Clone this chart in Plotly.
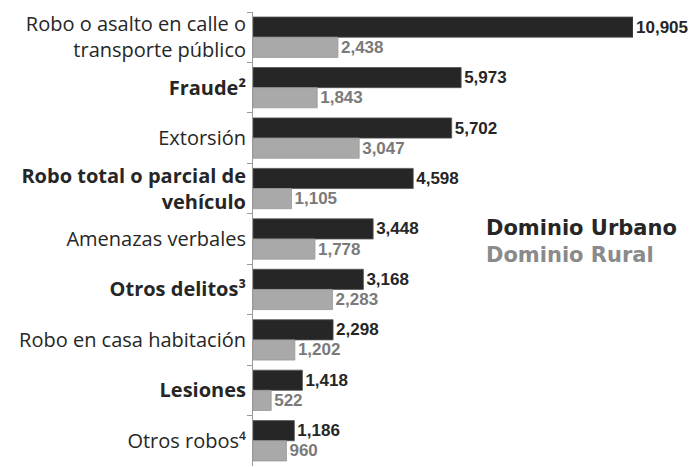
import plotly.graph_objects as go

categories = [
    "Robo o asalto en calle o<br>transporte público",
    "<b>Fraude²</b>",
    "Extorsión",
    "<b>Robo total o parcial de<br>vehículo</b>",
    "Amenazas verbales",
    "<b>Otros delitos³</b>",
    "Robo en casa habitación",
    "<b>Lesiones</b>",
    "Otros robos⁴",
]
urbano = [10905, 5973, 5702, 4598, 3448, 3168, 2298, 1418, 1186]
rural = [2438, 1843, 3047, 1105, 1778, 2283, 1202, 522, 960]
series_names = ["Dominio Urbano", "Dominio Rural"]

dark = "#262626"
gray = "#a9a9a9"
label_gray = "#7a7a7a"

fig = go.Figure()
fig.add_trace(go.Bar(
    y=categories, x=urbano, orientation="h", name=series_names[0],
    marker=dict(color=dark, line=dict(color="#555555", width=0.8)),
    text=[f"{v:,}" for v in urbano], textposition="outside",
    textfont=dict(family="Liberation Sans, Arial", size=17, color=dark),
    texttemplate="<b>%{text}</b>", cliponaxis=False,
))
fig.add_trace(go.Bar(
    y=categories, x=rural, orientation="h", name=series_names[1],
    marker=dict(color=gray, line=dict(color="#999999", width=0.8)),
    text=[f"{v:,}" for v in rural], textposition="outside",
    textfont=dict(family="Liberation Sans, Arial", size=17, color=label_gray),
    texttemplate="<b>%{text}</b>", cliponaxis=False,
))

fig.update_layout(
    width=696, height=468,
    margin=dict(l=245, r=71, t=4, b=10, autoexpand=False),
    paper_bgcolor="white", plot_bgcolor="white",
    barmode="group", bargap=0.2, bargroupgap=0,
    showlegend=False,
    uniformtext=dict(mode=False),
    font=dict(family="Open Sans", size=20, color="#2a2a2a"),
    xaxis=dict(range=[0, 10905], visible=False, showgrid=False, zeroline=False),
    yaxis=dict(
        autorange="reversed", showline=True, linecolor="#9a9a9a", linewidth=1,
        ticks="outside", tickson="boundaries", ticklen=5, tickcolor="#9a9a9a",
        tickfont=dict(family="Open Sans", size=20, color="#262626"),
        ticklabelstandoff=2,
        showgrid=False, automargin=False,
    ),
    annotations=[
        dict(text="<b>Dominio Urbano</b>", xref="paper", yref="paper",
             x=0.608, y=0.524, xanchor="left", yanchor="middle", showarrow=False,
             font=dict(family="DejaVu Sans", size=21, color=dark)),
        dict(text="<b>Dominio Rural</b>", xref="paper", yref="paper",
             x=0.608, y=0.465, xanchor="left", yanchor="middle", showarrow=False,
             font=dict(family="DejaVu Sans", size=21, color="#8a8a8a")),
    ],
)

fig.write_html("out.html")
